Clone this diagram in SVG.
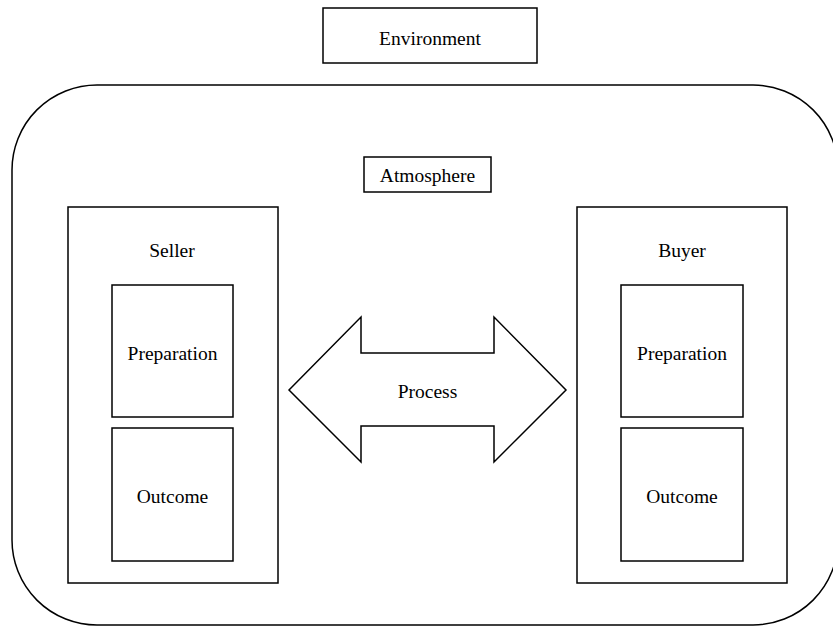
<svg xmlns="http://www.w3.org/2000/svg" width="833" height="626" viewBox="0 0 833 626">
<style>
.box{fill:#fff;stroke:#000;stroke-width:1.5}
.lbl{font-family:"Liberation Serif","Times New Roman",serif;font-size:19.5px;fill:#000;text-anchor:middle;dominant-baseline:central}
</style>
<rect width="833" height="626" fill="#fff"/>
<g id="environment">
<rect class="box" x="323" y="8" width="214" height="55"/>
<text class="lbl" x="430" y="38">Environment</text>
</g>
<g id="frame">
<rect class="box" x="12" y="85" width="826" height="540" rx="85" ry="85"/>
</g>
<g id="atmosphere">
<rect class="box" x="364" y="157" width="127" height="35"/>
<text class="lbl" x="427.5" y="175">Atmosphere</text>
</g>
<g id="seller">
<rect class="box" x="68" y="207" width="210" height="376"/>
<text class="lbl" x="172" y="250">Seller</text>
</g>
<g id="seller-preparation">
<rect class="box" x="112" y="285" width="121" height="132"/>
<text class="lbl" x="172.5" y="353">Preparation</text>
</g>
<g id="seller-outcome">
<rect class="box" x="112" y="428" width="121" height="133"/>
<text class="lbl" x="172.5" y="496">Outcome</text>
</g>
<g id="buyer">
<rect class="box" x="577" y="207" width="210" height="376"/>
<text class="lbl" x="682" y="250">Buyer</text>
</g>
<g id="buyer-preparation">
<rect class="box" x="621" y="285" width="122" height="132"/>
<text class="lbl" x="682" y="353">Preparation</text>
</g>
<g id="buyer-outcome">
<rect class="box" x="621" y="428" width="122" height="133"/>
<text class="lbl" x="682" y="496">Outcome</text>
</g>
<g id="connectors">
<g id="process">
<polygon class="box" points="289,390 361,317 361,353 494,353 494,317 566,390 494,462 494,426 361,426 361,462"/>
<text class="lbl" x="427.5" y="391">Process</text>
</g>
</g>
</svg>
